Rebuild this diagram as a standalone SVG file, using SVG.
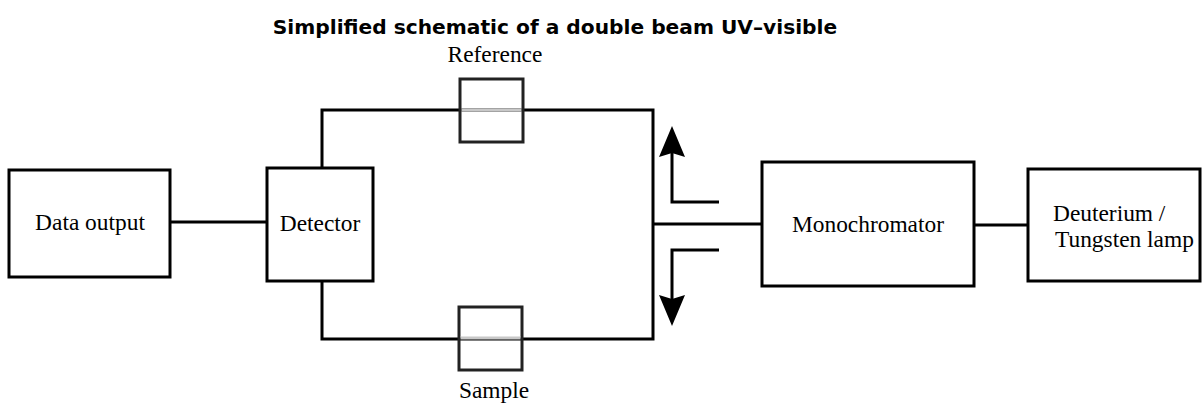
<svg xmlns="http://www.w3.org/2000/svg" width="1204" height="405" viewBox="0 0 1204 405">
<style>
.box{fill:#fff;stroke:#000;stroke-width:3}
.cell{fill:none;stroke:#222;stroke-width:3}
.ln{fill:none;stroke:#000;stroke-width:3}
.glass{stroke:#c8c8c8;stroke-width:3}
.lbl{font-family:"Liberation Serif","Times New Roman",serif;font-size:23.4px;fill:#000}
.title{font-family:"DejaVu Sans",Verdana,sans-serif;font-weight:bold;font-size:20.2px;fill:#000}
.head{fill:#000}
</style>
<rect width="1204" height="405" fill="#fff"/>
<text class="title" x="555" y="34" text-anchor="middle">Simplified schematic of a double beam UV–visible</text>
<g id="connectors">
<line class="ln" x1="170" y1="222" x2="267" y2="222"/>
<polyline class="ln" points="322,168 322,110 653,110 653,339 322,339 322,281"/>
<line class="ln" x1="653" y1="224" x2="762" y2="224"/>
<line class="ln" x1="974" y1="225" x2="1028" y2="225"/>
<polyline class="ln" points="719,202 672,202 672,150"/>
<path class="head" d="M672,126 L685,157 L672,153 L659,157 Z"/>
<polyline class="ln" points="719,250 672,250 672,302"/>
<path class="head" d="M672,326 L685,295 L672,299 L659,295 Z"/>
</g>
<g id="data-output">
<rect class="box" x="9" y="170" width="161" height="107"/>
<text class="lbl" x="90" y="230" text-anchor="middle">Data output</text>
</g>
<g id="detector">
<rect class="box" x="267" y="168" width="106" height="113"/>
<text class="lbl" x="320" y="231" text-anchor="middle">Detector</text>
</g>
<g id="reference">
<rect class="cell" x="460" y="79" width="63" height="63" fill="#fff"/>
<line class="glass" x1="461.5" y1="110" x2="521.5" y2="110"/>
<text class="lbl" x="495" y="62" text-anchor="middle">Reference</text>
</g>
<g id="sample">
<rect class="cell" x="459" y="307" width="63" height="63" fill="#fff"/>
<line class="glass" x1="460.5" y1="338" x2="520.5" y2="338"/>
<text class="lbl" x="494" y="398" text-anchor="middle">Sample</text>
</g>
<g id="monochromator">
<rect class="box" x="762" y="162" width="212" height="124"/>
<text class="lbl" x="868" y="232" text-anchor="middle">Monochromator</text>
</g>
<g id="lamp">
<rect class="box" x="1028" y="169" width="172" height="112"/>
<text class="lbl" x="1053" y="221">Deuterium /</text>
<text class="lbl" x="1055" y="247">Tungsten lamp</text>
</g>
</svg>
